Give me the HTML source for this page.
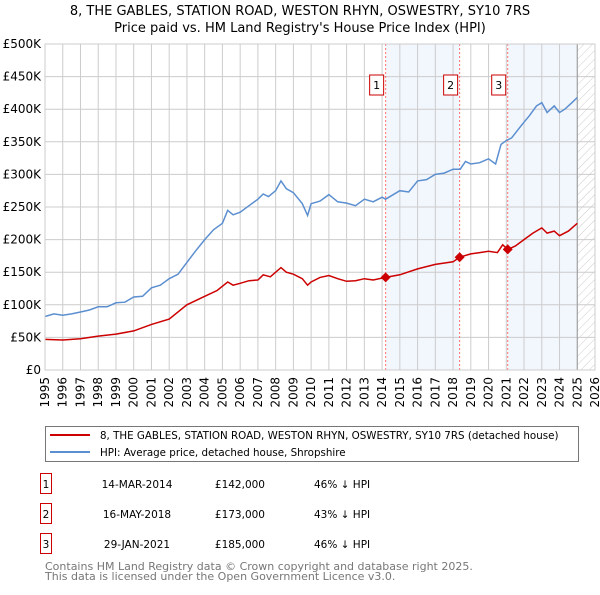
<!DOCTYPE html>
<html><head><meta charset="utf-8"><style>
body{margin:0;background:#fff;font-family:"Liberation Sans","DejaVu Sans",sans-serif}
svg text{font-family:"DejaVu Sans","Liberation Sans",sans-serif}
</style></head><body>
<svg id="c" width="600" height="590" viewBox="0 0 600 590" xmlns="http://www.w3.org/2000/svg">
<defs><pattern id="hatch" width="6" height="6" patternUnits="userSpaceOnUse" patternTransform="rotate(45)"><line x1="0" y1="0" x2="0" y2="6" stroke="#ccc" stroke-width="1"/></pattern></defs>
<text x="300" y="15" text-anchor="middle" font-size="13">8, THE GABLES, STATION ROAD, WESTON RHYN, OSWESTRY, SY10 7RS</text>
<text x="300" y="32" text-anchor="middle" font-size="13">Price paid vs. HM Land Registry's House Price Index (HPI)</text>
<g id="plot"></g>
<g>
<rect x="45.5" y="426.5" width="533" height="35" fill="#fff" stroke="#777"/>
<line x1="50" y1="435" x2="90" y2="435" stroke="#cc0000" stroke-width="2"/>
<text x="100" y="439" font-size="10.3">8, THE GABLES, STATION ROAD, WESTON RHYN, OSWESTRY, SY10 7RS (detached house)</text>
<line x1="50" y1="452" x2="90" y2="452" stroke="#5b8fd0" stroke-width="2"/>
<text x="100" y="456" font-size="10.3">HPI: Average price, detached house, Shropshire</text>
</g>
<g id="table" font-size="10.5"></g>
<text x="45" y="570" font-size="11" fill="#777">Contains HM Land Registry data © Crown copyright and database right 2025.</text>
<text x="45" y="580" font-size="11" fill="#777">This data is licensed under the Open Government Licence v3.0.</text>
</svg>
<script>
const hpiYears=[1995,1995.5,1996,1996.5,1997,1997.5,1998,1998.5,1999,1999.5,2000,2000.5,2001,2001.5,2002,2002.5,2003,2003.5,2004,2004.5,2005,2005.3,2005.6,2006,2006.5,2007,2007.3,2007.6,2008,2008.3,2008.6,2009,2009.5,2009.8,2010,2010.5,2011,2011.5,2012,2012.5,2013,2013.5,2014,2014.2,2015,2015.5,2016,2016.5,2017,2017.5,2018,2018.4,2018.7,2019,2019.5,2020,2020.4,2020.7,2021,2021.3,2021.7,2022,2022.3,2022.7,2023,2023.3,2023.7,2024,2024.3,2024.7,2025];
const hpiValues=[82,86,84,86,89,92,97,97,103,104,112,113,126,130,140,147,165,183,200,215,225,245,238,242,252,262,270,266,275,290,278,272,255,237,255,259,269,258,256,252,262,258,265,262,275,273,290,292,300,302,308,308,320,316,318,324,316,346,352,356,370,380,390,405,410,395,405,395,400,410,418];
const redYears=[1995,1996,1997,1998,1999,2000,2001,2002,2003,2004,2004.7,2005.3,2005.6,2006,2006.5,2007,2007.3,2007.7,2008.3,2008.6,2009,2009.5,2009.8,2010,2010.5,2011,2011.5,2012,2012.5,2013,2013.5,2014.2,2015,2016,2017,2018,2018.37,2019,2019.5,2020,2020.5,2020.8,2021.08,2021.5,2022,2022.5,2023,2023.3,2023.7,2024,2024.5,2025];
const redValues=[47,46,48,52,55,60,70,78,100,113,122,135,130,133,137,138,146,143,157,150,147,140,130,135,142,145,140,136,137,140,138,142,146,155,162,166,173,178,180,182,180,192,185,190,200,210,218,210,213,206,213,225];
const saleLabels=["1","2","3"];
const saleYears=[2014.2,2018.37,2021.08];
const saleValues=[142,173,185];
const saleDates=["14-MAR-2014","16-MAY-2018","29-JAN-2021"];
const salePrices=["£142,000","£173,000","£185,000"];
const saleDiffs=["46% ↓ HPI","43% ↓ HPI","46% ↓ HPI"];
const yTicks=[0,50,100,150,200,250,300,350,400,450,500];
const yTickLabels=["£0","£50K","£100K","£150K","£200K","£250K","£300K","£350K","£400K","£450K","£500K"];
const xTicks=[1995,1996,1997,1998,1999,2000,2001,2002,2003,2004,2005,2006,2007,2008,2009,2010,2011,2012,2013,2014,2015,2016,2017,2018,2019,2020,2021,2022,2023,2024,2025,2026];

const NS="http://www.w3.org/2000/svg";
const X0=45,X1=595,Y0=370,Y1=44;
const xs=y=>X0+(y-1995)/(2026-1995)*(X1-X0);
const ys=v=>Y0-v/500*(Y0-Y1);
const plot=document.getElementById('plot');
function mk(tag,attrs,parent){const e=document.createElementNS(NS,tag);for(const k in attrs)e.setAttribute(k,attrs[k]);(parent||plot).appendChild(e);return e;}
for(const [a,b] of [[saleYears[0],saleYears[1]],[saleYears[2],2025.0]]){
 const r=mk('rect',{x:xs(a),y:Y1,width:xs(b)-xs(a),height:Y0-Y1,fill:'#f2f6fd'});
 
 
}
const h=mk('rect',{x:xs(2025.0),y:Y1,width:X1-xs(2025.0),height:Y0-Y1,fill:'url(#hatch)'});


xTicks.forEach(t=>{
 const l=mk('line',{x1:xs(t),x2:xs(t),y1:Y1,y2:Y0,stroke:'#cccccc','stroke-width':1});
 
 
 const tx=mk('text',{x:0,y:0,'font-size':12,'text-anchor':'end',transform:`translate(${xs(t)+4},${Y0+7}) rotate(-90)`});
 tx.textContent=t;
 
 
});
yTicks.forEach((t,i)=>{
 const l=mk('line',{x1:X0,x2:X1,y1:ys(t),y2:ys(t),stroke:'#cccccc','stroke-width':1});
 
 
 const tx=mk('text',{x:X0-4,y:ys(t)+4,'font-size':12,'text-anchor':'end'});
 tx.textContent=yTickLabels[i];
 
 
});
const vl=mk('line',{x1:xs(2025.0),x2:xs(2025.0),y1:Y1,y2:Y0,stroke:'#999','stroke-width':1});


saleYears.forEach((y,i)=>{
 const l=mk('line',{x1:xs(y),x2:xs(y),y1:Y1,y2:Y0,stroke:'#ff7070','stroke-width':1,'stroke-dasharray':'2,2'});
 
 
});
const pts=(xa,va)=>xa.map((x,i)=>xs(x).toFixed(1)+','+ys(va[i]).toFixed(1)).join(' ');
const hl=mk('polyline',{points:pts(hpiYears,hpiValues),fill:'none',stroke:'#5b8fd0','stroke-width':1.5});


const rl=mk('polyline',{points:pts(redYears,redValues),fill:'none',stroke:'#cc0000','stroke-width':1.5});


saleYears.forEach((y,i)=>{
 const cx=xs(y),cy=ys(saleValues[i]);
 const p=mk('polygon',{points:`${cx},${cy-5} ${cx+5},${cy} ${cx},${cy+5} ${cx-5},${cy}`,fill:'#cc0000'});
 
 
 const b=mk('rect',{x:cx-16,y:75,width:14,height:20,fill:'#fff',stroke:'#cc0000'});
 
 
 const t=mk('text',{x:cx-9,y:89,'font-size':11,'text-anchor':'middle'});
 t.textContent=saleLabels[i];
 
 
});
mk('rect',{x:X0,y:Y1,width:X1-X0,height:Y0-Y1,fill:'none',stroke:'#cccccc'});
const tb=document.getElementById('table');
saleLabels.forEach((s,i)=>{
 const y=484+i*30;
 const g=mk('g',{},tb);
 
 
 mk('rect',{x:40.5,y:y-10.5,width:11,height:20,fill:'#fff',stroke:'#cc0000'},g);
 const a=mk('text',{x:46,y:y+4,'text-anchor':'middle'},g);a.textContent=s;
 const d=mk('text',{x:137,y:y+4,'text-anchor':'middle'},g);d.textContent=saleDates[i];
 
 
 const p=mk('text',{x:265,y:y+4,'text-anchor':'end'},g);p.textContent=salePrices[i];
 
 
 const f=mk('text',{x:314,y:y+4},g);f.textContent=saleDiffs[i];
 
 
});
</script>
</body></html>
